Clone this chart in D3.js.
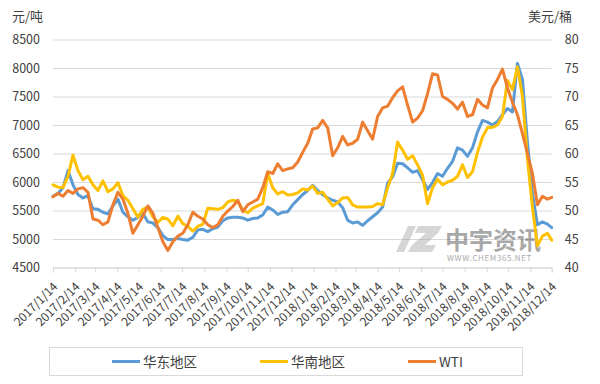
<!DOCTYPE html>
<html lang="zh">
<head>
<meta charset="UTF-8">
<title>华东 华南 WTI</title>
<script src="https://cdn.jsdelivr.net/npm/d3@7"></script>
<style>
  body { margin: 0; background: #fff; }
  text { font-family: "Noto Sans CJK SC", "Noto Sans", sans-serif; fill: #404040; }
</style>
</head>
<body>
<script>
    // x 轴刻度标签（每月14日）
    var tickLabels = ["2017/1/14", "2017/2/14", "2017/3/14", "2017/4/14", "2017/5/14", "2017/6/14",
        "2017/7/14", "2017/8/14", "2017/9/14", "2017/10/14", "2017/11/14", "2017/12/14",
        "2018/1/14", "2018/2/14", "2018/3/14", "2018/4/14", "2018/5/14", "2018/6/14",
        "2018/7/14", "2018/8/14", "2018/9/14", "2018/10/14", "2018/11/14", "2018/12/14"];
    var leftTicks = [4500, 5000, 5500, 6000, 6500, 7000, 7500, 8000, 8500];
    var rightTicks = [40, 45, 50, 55, 60, 65, 70, 75, 80];

    // 周度数据：从 2017/1/14 起每 7 天一个点，最后一点为 2018/12/14
    var huadong = [5750, 5800, 5900, 6200, 5950, 5780, 5720, 5760, 5530, 5520,
        5470, 5440, 5580, 5700, 5470, 5390, 5330, 5380, 5450, 5300,
        5280, 5200, 5060, 4990, 4990, 5010, 4990, 4980, 5030, 5160,
        5170, 5130, 5180, 5210, 5320, 5370, 5380, 5380, 5370, 5330,
        5360, 5370, 5420, 5560, 5510, 5430, 5470, 5480, 5600, 5690,
        5780, 5850, 5940, 5850, 5780, 5720, 5680, 5650, 5550, 5330,
        5280, 5300, 5240, 5320, 5390, 5460, 5560, 5980, 6090, 6330,
        6320, 6250, 6170, 6200, 6040, 5870, 5990, 6150, 6100, 6240,
        6360, 6600, 6560, 6450, 6600, 6880, 7080, 7050, 7000, 7060,
        7180, 7290, 7230, 8080, 7800, 6700, 5800, 5250, 5300, 5260,
        5200];
    var huanan = [5950, 5910, 5900, 6100, 6470, 6200, 6040, 6100, 5950, 5850,
        6020, 5830, 5880, 5990, 5760, 5680, 5530, 5380, 5520, 5560,
        5390, 5290, 5380, 5350, 5230, 5400, 5270, 5220, 5140, 5220,
        5260, 5540, 5530, 5520, 5550, 5650, 5680, 5660, 5510, 5460,
        5540, 5580, 5620, 6150, 5900, 5790, 5830, 5770, 5780, 5810,
        5880, 5860, 5930, 5800, 5820, 5700, 5580, 5640, 5720, 5730,
        5600, 5560, 5560, 5560, 5570, 5620, 5600, 5900, 6150, 6700,
        6560, 6400, 6460, 6300, 6120, 5620, 5900, 6050, 5950, 6000,
        6030, 6100, 6300, 6080, 6180, 6520, 6790, 6950, 6960, 7000,
        7150, 7780, 7620, 8020, 7500, 6400, 5560, 4880, 5050, 5100,
        4980];
    var wti = [52.4, 53.0, 52.5, 53.5, 53.0, 53.8, 54.0, 53.2, 48.5, 48.3,
        47.5, 48.0, 51.0, 53.2, 52.0, 49.5, 46.0, 47.5, 49.0, 50.8,
        49.5, 47.0, 44.5, 43.0, 44.5, 45.5, 46.0, 47.5, 49.7, 49.0,
        48.5, 47.5, 47.0, 47.5, 49.0, 49.9, 50.7, 51.8, 49.8, 51.0,
        51.5, 52.0, 54.0, 56.8, 56.5, 58.2, 57.0, 57.3, 57.5, 58.5,
        60.2, 61.8, 64.3, 64.5, 65.8, 64.5, 59.6, 61.0, 63.0, 61.5,
        61.8, 62.5, 65.5, 64.0, 62.5, 66.5, 68.0, 68.3, 69.8, 71.0,
        71.7, 68.5, 65.5, 66.2, 67.5, 70.5, 74.0, 73.8, 70.0, 69.5,
        68.8, 67.8, 69.0, 66.5, 66.8, 69.5, 68.5, 68.0, 71.5, 73.0,
        74.8, 71.5, 69.0, 66.8, 63.5, 60.0, 56.5, 51.0, 52.5, 52.0,
        52.3];

    var parse = d3.utcParse("%Y/%m/%d");
    var start = parse("2017/1/14"), end = parse("2018/12/14");
    var dates = d3.utcDay.range(start, end, 7);
    dates.push(end);

    var width = 600, height = 384;
    var plotLeft = 53, plotRight = 551.7, plotTop = 39.5, plotBottom = 267.5;

    var svg = d3.select("body").append("svg")
        .attr("width", width)
        .attr("height", height)
        .style("display", "block");

    var x = d3.scaleUtc().domain([start, end]).range([plotLeft, plotRight]);
    var yL = d3.scaleLinear().domain([4500, 8500]).range([plotBottom, plotTop]);
    var yR = d3.scaleLinear().domain([40, 80]).range([plotBottom, plotTop]);

    // 网格线 + 左轴
    var gL = svg.append("g")
        .attr("transform", "translate(" + plotLeft + ",0)")
        .call(d3.axisLeft(yL).tickValues(leftTicks).tickSize(-(plotRight - plotLeft))
            .tickPadding(13).tickFormat(d3.format("d")));
    gL.select(".domain").remove();
    gL.selectAll("line").attr("stroke", "#d9d9d9");
    gL.selectAll("text").style("font-size", "12.5px").attr("fill", "#404040");

    var gR = svg.append("g")
        .attr("transform", "translate(" + plotRight + ",0)")
        .call(d3.axisRight(yR).tickValues(rightTicks).tickSize(0).tickPadding(13));
    gR.select(".domain").remove();
    gR.selectAll("text").style("font-size", "12.5px").attr("fill", "#404040");

    // x 轴
    var gX = svg.append("g")
        .attr("transform", "translate(0," + plotBottom + ")")
        .call(d3.axisBottom(x).tickValues(tickLabels.map(parse)).tickSize(5)
            .tickFormat(function (d, i) { return tickLabels[i]; }));
    gX.select(".domain").attr("stroke", "#d9d9d9");
    gX.selectAll("line").attr("stroke", "#d9d9d9");
    gX.selectAll("text")
        .attr("y", 0).attr("dy", 0)
        .attr("text-anchor", "end")
        .attr("transform", "translate(5,20) rotate(-45)")
        .style("font-size", "12px")
        .attr("fill", "#404040");

    // 水印（画在折线下方）
    var wm = svg.append("g").attr("opacity", 0.45);
    wm.append("path")
        .attr("d", "M408,226 L416,226 L404,252 L396,252 Z M418,226 L442,226 L438,233 L425,245 L436,245 L432,252 L408,252 L412,245 L426,233 L415,233 Z")
        .attr("fill", "#a6a6a6");
    wm.append("text").attr("x", 445).attr("y", 249)
        .style("font-size", "24px").style("font-weight", "bold")
        .attr("fill", "#a6a6a6").text("中宇资讯");
    wm.append("text").attr("x", 447).attr("y", 261)
        .style("font-size", "8px").attr("fill", "#a6a6a6")
        .style("letter-spacing", "0.6px").text("WWW.CHEM365.NET");

    // 折线
    var lineL = d3.line().x(function (d, i) { return x(dates[i]); }).y(function (d) { return yL(d); });
    var lineR = d3.line().x(function (d, i) { return x(dates[i]); }).y(function (d) { return yR(d); });

    var series = [
        {name: "华东地区", values: huadong, line: lineL, color: "#5b9bd5"},
        {name: "华南地区", values: huanan, line: lineL, color: "#ffc000"},
        {name: "WTI", values: wti, line: lineR, color: "#ed7d31"}
    ];

    series.forEach(function (s) {
        svg.append("path")
            .attr("d", s.line(s.values))
            .attr("fill", "none")
            .attr("stroke", s.color)
            .attr("stroke-width", 3)
            .attr("stroke-linejoin", "round")
            .attr("stroke-linecap", "round");
    });

    // 单位
    svg.append("text").attr("x", 12).attr("y", 21).style("font-size", "13px").text("元/吨");
    svg.append("text").attr("x", 528).attr("y", 21).style("font-size", "13px").text("美元/桶");

    // 图例
    svg.append("rect")
        .attr("x", 49.5).attr("y", 347.5).attr("width", 473).attr("height", 28)
        .attr("fill", "none").attr("stroke", "#d9d9d9");
    var legendX = [112, 260, 408];
    series.forEach(function (s, i) {
        var g = svg.append("g").attr("transform", "translate(" + legendX[i] + ",361.5)");
        g.append("line").attr("x1", 0).attr("x2", 28)
            .attr("stroke", s.color).attr("stroke-width", 3);
        g.append("text").attr("x", 31).attr("y", 5)
            .style("font-size", "13.5px").text(s.name);
    });
</script>
</body>
</html>
